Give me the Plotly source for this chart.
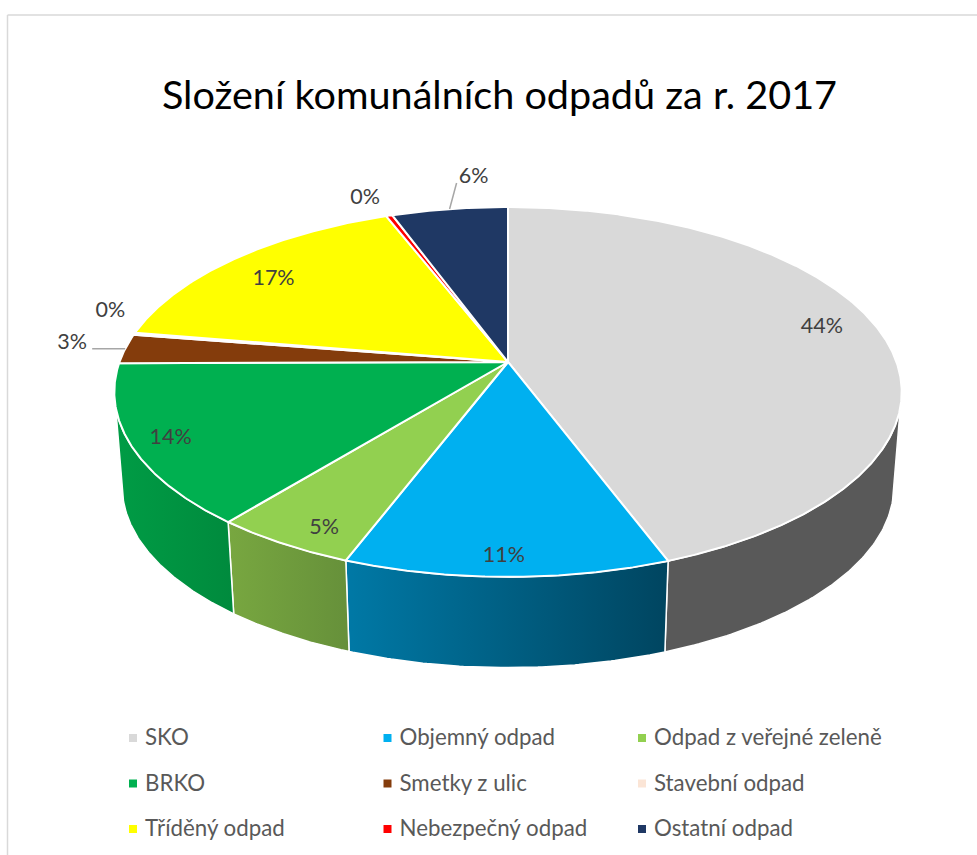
import numpy as np
import plotly.graph_objects as go

# --- data ---
TITLE = "Složení komunálních odpadů za r. 2017"
CATEGORIES = ["SKO", "Objemný odpad", "Odpad z veřejné zeleně", "BRKO", "Smetky z ulic",
              "Stavební odpad", "Tříděný odpad", "Nebezpečný odpad", "Ostatní odpad"]
VALUES = [44.49, 11.49, 5.1, 14.1, 2.6, 0.2, 16.51, 0.3, 5.6]
COLORS = ["#D9D9D9", "#00B0F0", "#92D050", "#00B050", "#843C0C",
          "#FBE5D6", "#FFFF00", "#FF0000", "#1F3864"]

# --- side-wall colours (left, right) for the visible front slices ---
SIDE_COLORS = {0: ("#595959", "#595959"), 1: ("#0079A6", "#004560"),
               2: ("#78A740", "#66903A"), 3: ("#009C45", "#008A3D")}

# --- label placement: radius in pie units, pixel nudge, optional leader offset ---
LABEL_R = [0.86, 0.92, 0.87, 0.90, 1.0, 1.0, 0.80, 1.0, 1.0]
LABEL_NUDGE = [(-7, -8), (-3, 0), (8, 12), (-1, 2), (-53, -5), (-24, -22), (-12, 2), (-24, -17), (24, -31)]
LEADERS = {4: (-33, 0), 8: (7, -26)}

# --- projection of the tilted pie onto the page ---
CX, CY, A, B, K = 508.0, 362.0, 388.5, 180.1, 0.162
DROP, SHRINK = 95.0, 0.98
VIS_START, VIS_END = 104.0, 256.0


def top(theta_deg, r=1.0):
    t = np.radians(theta_deg)
    X, Y = r * np.sin(t), r * np.cos(t)
    w = 1 + K * Y
    return CX + A * X / w, CY - B * Y / w


def low(theta_deg):
    x, y = top(theta_deg)
    return CX + SHRINK * (x - CX), CY + DROP + SHRINK * (y - CY)


total = sum(VALUES)
edges = np.concatenate([[0], np.cumsum(VALUES)]) / total * 360
mids = (edges[:-1] + edges[1:]) / 2

fig = go.Figure()

# side walls
for i, (c1, c2) in SIDE_COLORS.items():
    a, b = max(edges[i], VIS_START), min(edges[i + 1], VIS_END)
    th = np.linspace(a, b, 80)
    xt, yt = top(th)
    xl, yl = low(th[::-1])
    fig.add_trace(go.Scatter(
        x=np.concatenate([xt, xl, xt[:1]]), y=np.concatenate([yt, yl, yt[:1]]),
        mode="lines", line=dict(color="white", width=1.5), fill="toself",
        fillgradient=dict(type="horizontal", colorscale=[[0, c1], [1, c2]]),
        hoverinfo="skip", showlegend=False))

# top faces
for i, name in enumerate(CATEGORIES):
    th = np.linspace(edges[i], edges[i + 1], max(3, int((edges[i + 1] - edges[i]) * 3)))
    x, y = top(th)
    fig.add_trace(go.Scatter(
        x=np.concatenate([[CX], x, [CX]]), y=np.concatenate([[CY], y, [CY]]),
        mode="lines", line=dict(color="white", width=2), fill="toself",
        fillcolor=COLORS[i], name=name, hoverinfo="name", showlegend=False))

# leader lines
for i, (dx, dy) in LEADERS.items():
    x0, y0 = top(mids[i])
    fig.add_trace(go.Scatter(x=[x0, x0 + dx], y=[y0, y0 + dy], mode="lines",
                             line=dict(color="#A6A6A6", width=1.5),
                             hoverinfo="skip", showlegend=False))

# percentage labels
lx, ly = [], []
for i in range(len(VALUES)):
    x, y = top(mids[i], LABEL_R[i])
    lx.append(x + LABEL_NUDGE[i][0])
    ly.append(y + LABEL_NUDGE[i][1])
fig.add_trace(go.Scatter(x=lx, y=ly, mode="text", text=[f"{round(v)}%" for v in VALUES],
                         textposition="middle center",
                         textfont=dict(family="Lato", size=21.5, color="#404040"),
                         hoverinfo="skip", showlegend=False))

# legend grid
LEG_X, LEG_Y, LEG_DX, LEG_DY, LEG_GAP = 133, 738, 254.5, 45.5, 12
gx = [LEG_X + LEG_DX * (i % 3) for i in range(len(CATEGORIES))]
gy = [LEG_Y + LEG_DY * (i // 3) for i in range(len(CATEGORIES))]
fig.add_trace(go.Scatter(x=gx, y=gy, mode="markers",
                         marker=dict(symbol="square", size=8, color=COLORS, line=dict(width=0)),
                         hoverinfo="skip", showlegend=False))
fig.add_trace(go.Scatter(x=[v + LEG_GAP for v in gx], y=[v + 1.5 for v in gy], mode="text", text=CATEGORIES,
                         textposition="middle right",
                         textfont=dict(family="Lato", size=22.3, color="#595959"),
                         hoverinfo="skip", showlegend=False))

fig.update_layout(
    width=977, height=855, margin=dict(l=0, r=0, t=0, b=0),
    paper_bgcolor="white", plot_bgcolor="white", showlegend=False,
    title=dict(text=TITLE, x=499.5 / 977, xanchor="center", xref="paper",
               y=1 - 95 / 855, yanchor="middle", yref="paper",
               font=dict(family="Lato", size=39.6, color="#000000")),
    xaxis=dict(range=[0, 977], visible=False, fixedrange=True),
    yaxis=dict(range=[855, 0], visible=False, fixedrange=True),
    shapes=[dict(type="line", x0=7.5, x1=7.5, y0=15, y1=855, line=dict(color="#D9D9D9", width=1.5)),
            dict(type="line", x0=7.5, x1=977, y0=15, y1=15, line=dict(color="#D9D9D9", width=1.5))],
)

fig.write_html("out.html", config=dict(displayModeBar=False),
               post_script="document.body.style.margin='0';document.body.style.overflow='hidden';")
